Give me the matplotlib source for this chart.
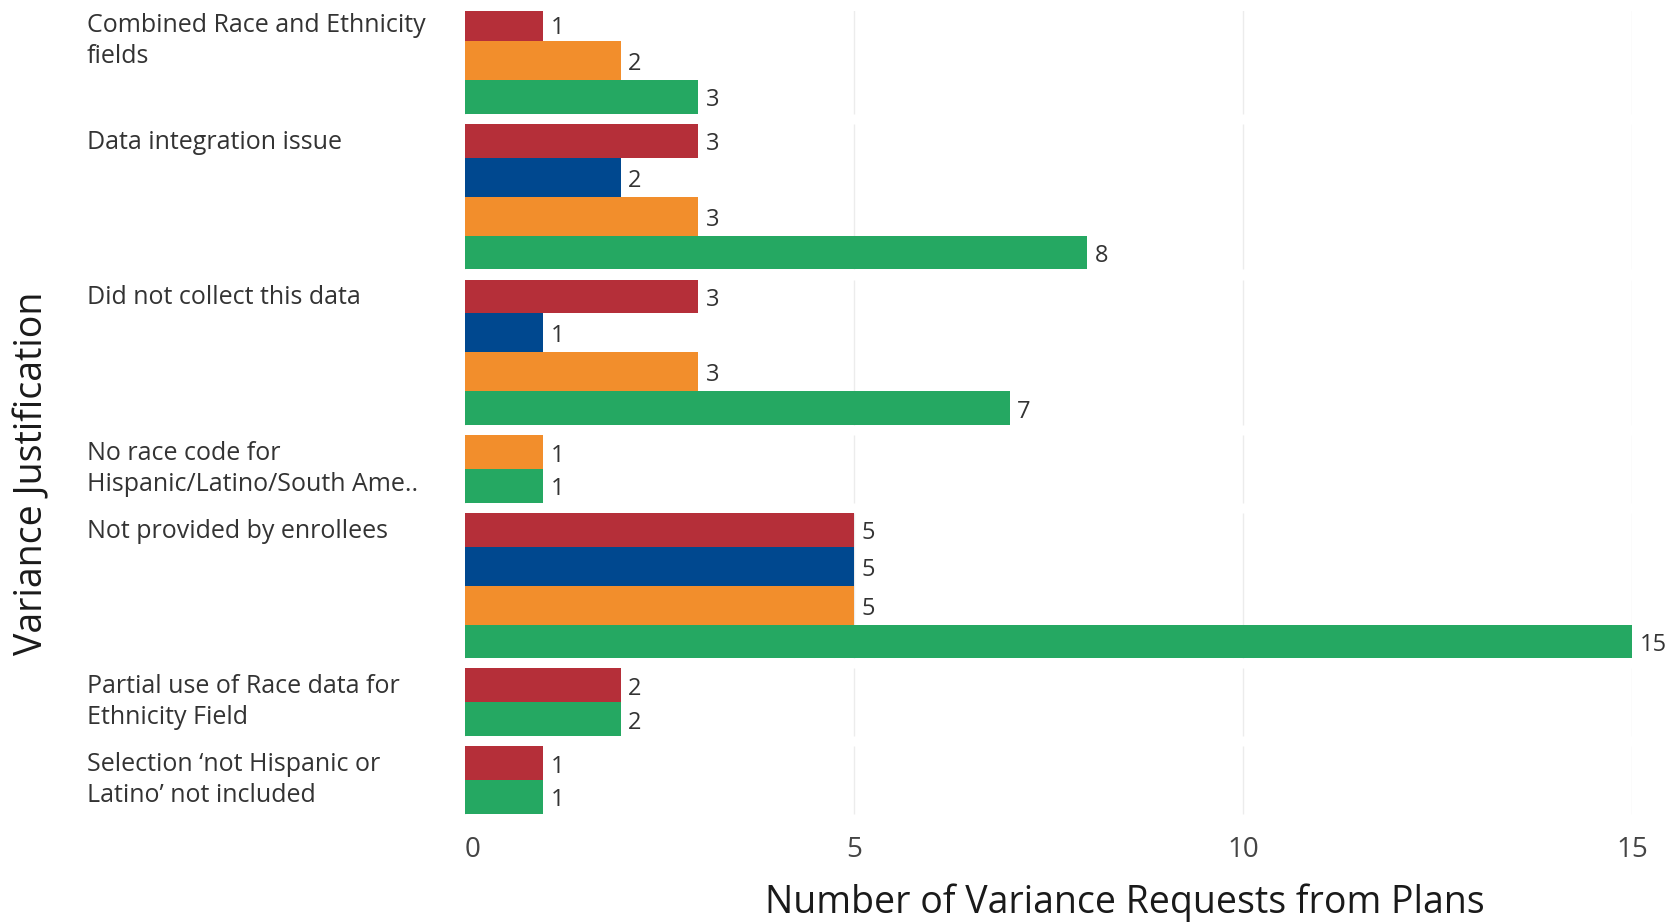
import matplotlib.pyplot as plt
from matplotlib.transforms import blended_transform_factory

# data (0 = no bar drawn)
categories = [
    "Combined Race and Ethnicity\nfields",
    "Data integration issue",
    "Did not collect this data",
    "No race code for\nHispanic/Latino/South Ame..",
    "Not provided by enrollees",
    "Partial use of Race data for\nEthnicity Field",
    "Selection \u2018not Hispanic or\nLatino\u2019 not included",
]
red_vals = [1, 3, 3, 0, 5, 2, 1]
blue_vals = [0, 2, 1, 0, 5, 0, 0]
orange_vals = [2, 3, 3, 1, 5, 0, 0]
green_vals = [3, 8, 7, 1, 15, 2, 1]
x_ticks = [0, 5, 10, 15]

series_colors = ["#b52f39", "#00488f", "#f28e2c", "#25a862"]
series_vals = [red_vals, blue_vals, orange_vals, green_vals]

plt.rcParams["font.family"] = ["Open Sans", "DejaVu Sans"]

W, H = 1672, 924
fig = plt.figure(figsize=(W / 100, H / 100), dpi=100)
ax = fig.add_axes([465 / W, 1 - 819 / H, (1632 - 465) / W, (819 - 11) / H])

EDGE = 0.13  # outer bars of each pane are a bit thinner
label_tf = blended_transform_factory(fig.transFigure, ax.transData)

pos = 0
for i, cat in enumerate(categories):
    rows = [(vals[i], c) for vals, c in zip(series_vals, series_colors) if vals[i] > 0]
    n = len(rows)
    for j, (v, c) in enumerate(rows):
        y0 = pos + j + (EDGE if j == 0 else 0)
        y1 = pos + j + 1 - (EDGE if j == n - 1 else 0)
        yc = (y0 + y1) / 2
        ax.barh(yc, v, height=y1 - y0, color=c, linewidth=0, zorder=2)
        ax.annotate(str(v), (v, yc), xytext=(5.5, -2.5), textcoords="offset points",
                    va="center", ha="left", fontsize=17, color="#333333",
                    annotation_clip=False)
    # pane gridlines
    ax.vlines(x_ticks, pos + EDGE, pos + n - EDGE, color="#ececec", lw=1, zorder=1)
    ax.text(87 / W, pos + EDGE + 0.15, cat, transform=label_tf, ha="left", va="top",
            fontsize=18, color="#333333", linespacing=1.3)
    pos += n

ax.set_xlim(0, 15)
ax.set_ylim(pos, 0.224)
ax.set_xticks(x_ticks)
ax.set_xticklabels([str(t) for t in x_ticks])
ax.get_xticklabels()[0].set_ha("left")
ax.set_yticks([])
ax.tick_params(axis="x", length=0, pad=12, labelsize=20, labelcolor="#444444")
for s in ax.spines.values():
    s.set_visible(False)

fig.text(1125 / W, 1 - 903 / H, "Number of Variance Requests from Plans",
         ha="center", va="center", fontsize=27, color="#1a1a1a")
fig.text(32 / W, 1 - 473 / H, "Variance Justification", rotation=90,
         ha="center", va="center", fontsize=27, color="#1a1a1a")

fig.savefig("out.png", dpi=100)
